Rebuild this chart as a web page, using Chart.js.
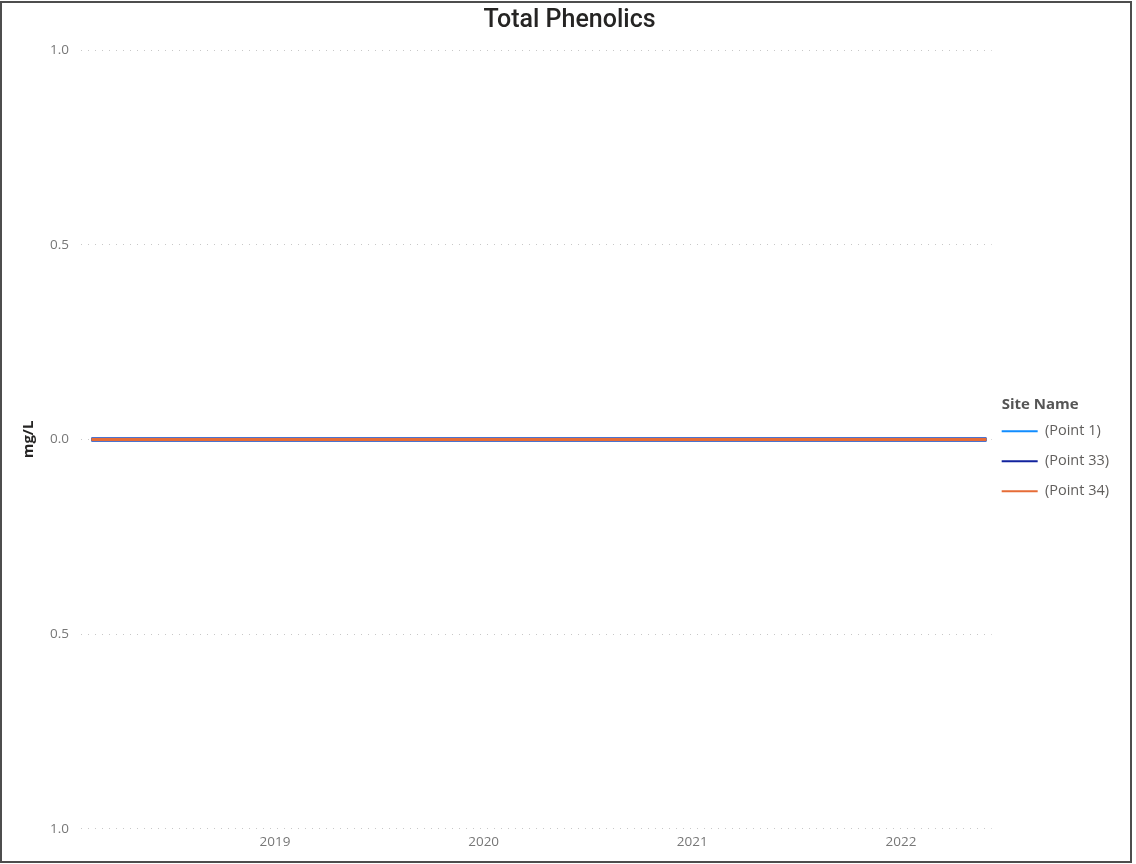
<!DOCTYPE html>
<html>
<head>
<meta charset="utf-8">
<script src="https://cdn.jsdelivr.net/npm/chart.js@4/dist/chart.umd.min.js"></script>
<style>
  html, body { margin: 0; padding: 0; background: #fff; }
  #frame {
    position: absolute; left: 0; top: 1px;
    width: 1128px; height: 858px;
    border: 2px solid #4d4d4d;
    background: #fff;
  }
  #myChart { display: block; }
</style>
</head>
<body>
<div id="frame"><canvas id="myChart" width="1128" height="858"></canvas></div>
<script>
// sample dates as decimal years
const sampleDates = [2018.12, 2018.38, 2018.63, 2018.88, 2019.13, 2019.38, 2019.63, 2019.88,
                     2020.13, 2020.38, 2020.63, 2020.88, 2021.13, 2021.38, 2021.63, 2021.88,
                     2022.13, 2022.41];
const point1  = [0, 0, 0, 0, 0, 0, 0, 0, 0, 0, 0, 0, 0, 0, 0, 0, 0, 0];
const point33 = [0, 0, 0, 0, 0, 0, 0, 0, 0, 0, 0, 0, 0, 0, 0, 0, 0, 0];
const point34 = [0, 0, 0, 0, 0, 0, 0, 0, 0, 0, 0, 0, 0, 0, 0, 0, 0, 0];
const siteNames = ['(Point 1)', '(Point 33)', '(Point 34)'];
const yearTicks = [2019, 2020, 2021, 2022];

const toXY = vals => vals.map((v, i) => ({ x: sampleDates[i], y: v }));

// legend title is drawn lined up with the legend swatches
const legendTitle = {
    id: 'legendTitle',
    afterDraw(chart) {
        const lg = chart.legend;
        if (!lg || !lg.legendHitBoxes.length) return;
        const first = lg.legendHitBoxes[0];
        const c = chart.ctx;
        c.save();
        c.font = 'bold 15px "Open Sans"';
        c.fillStyle = '#555';
        c.textAlign = 'left';
        c.textBaseline = 'middle';
        c.fillText('Site Name', first.left, first.top + first.height / 2 - 29);
        c.restore();
    }
};

const ctx = document.getElementById('myChart').getContext('2d');
const myChart = new Chart(ctx, {
    type: 'line',
    data: {
        datasets: [
            { label: siteNames[0], data: toXY(point1),  borderColor: '#118DFF', backgroundColor: '#118DFF', borderWidth: 4, order: 3 },
            { label: siteNames[1], data: toXY(point33), borderColor: '#12239E', backgroundColor: '#12239E', borderWidth: 4, order: 2 },
            { label: siteNames[2], data: toXY(point34), borderColor: '#E66C37', backgroundColor: '#E66C37', borderWidth: 3, order: 1 }
        ]
    },
    plugins: [legendTitle],
    options: {
        responsive: false,
        animation: false,
        elements: {
            line: { tension: 0 },
            point: { radius: 0 }
        },
        layout: { padding: { top: 0, right: 11, bottom: 6, left: 18 } },
        plugins: {
            title: {
                display: true,
                text: 'Total Phenolics',
                color: '#252423',
                font: { family: 'Roboto', size: 25, weight: 500 },
                padding: { top: 3, bottom: 14 }
            },
            legend: {
                position: 'right',
                title: {
                    display: true,
                    text: 'Site Name',
                    color: 'rgba(0,0,0,0)',
                    font: { family: 'Open Sans', size: 15, weight: 'bold' },
                    padding: { top: 52, bottom: 0 }
                },
                labels: {
                    usePointStyle: true,
                    pointStyle: 'line',
                    pointStyleWidth: 36,
                    color: '#605E5C',
                    font: { family: 'Open Sans', size: 14.5, lineHeight: 20 / 14.5 },
                    padding: 10,
                    sort: (a, b) => a.datasetIndex - b.datasetIndex,
                    generateLabels: chart => Chart.defaults.plugins.legend.labels.generateLabels(chart)
                        .map(l => Object.assign(l, { text: [l.text], lineWidth: 2 }))
                }
            },
            tooltip: { enabled: false }
        },
        scales: {
            x: {
                type: 'linear',
                min: 2018.07,
                max: 2022.435,
                afterBuildTicks: axis => { axis.ticks = yearTicks.map(v => ({ value: v })); },
                ticks: {
                    callback: v => String(v),
                    color: '#777',
                    font: { family: 'Open Sans', size: 13.5 },
                    maxRotation: 0,
                    padding: 5
                },
                grid: { display: false, drawTicks: false },
                border: { display: false }
            },
            y: {
                min: -1,
                max: 1,
                ticks: {
                    stepSize: 0.5,
                    callback: v => Math.abs(v).toFixed(1),
                    color: '#777',
                    font: { family: 'Open Sans', size: 13.5 },
                    padding: 12
                },
                grid: {
                    color: '#c8c8c8',
                    lineWidth: 1,
                    drawTicks: false
                },
                border: { display: false, dash: [1, 6] },
                title: {
                    display: true,
                    text: 'mg/L',
                    color: '#252423',
                    font: { family: 'Open Sans', size: 15, weight: 'bold' },
                    padding: { top: 0, bottom: 0 }
                }
            }
        }
    }
});
</script>
</body>
</html>
